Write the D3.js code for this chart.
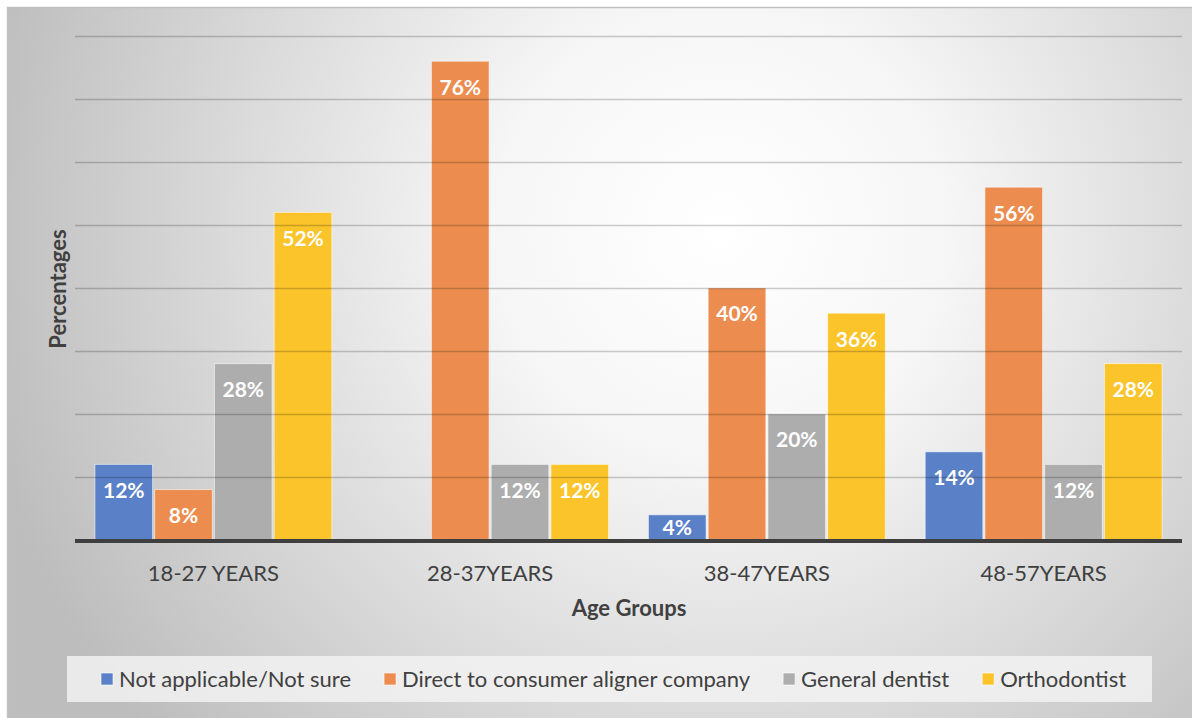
<!DOCTYPE html>
<html>
<head>
<meta charset="utf-8">
<script src="https://cdn.jsdelivr.net/npm/d3@7"></script>
<style>
  html, body { margin: 0; padding: 0; background: #ffffff; }
  svg { display: block; }
</style>
</head>
<body>
<svg id="chart" width="1192" height="718"></svg>
<script>
// Who respondents would prefer to obtain aligners from, by age group
const ageGroups = ["18-27 YEARS", "28-37YEARS", "38-47YEARS", "48-57YEARS"];
const seriesNames = ["Not applicable/Not sure", "Direct to consumer aligner company", "General dentist", "Orthodontist"];
const notSure      = [12, 0, 4, 14];
const directToCons = [8, 76, 40, 56];
const generalDent  = [28, 12, 20, 12];
const orthodontist = [52, 12, 36, 28];
const gridTicks = [0, 10, 20, 30, 40, 50, 60, 70, 80];
const seriesColors = ["#5a80c8", "#ec8c4e", "#adadad", "#fbc42a"];

const seriesValues = [notSure, directToCons, generalDent, orthodontist];

const W = 1192, H = 718;
const plot = { left: 75, right: 1182, top: 36, bottom: 540 };
const font = "Lato, 'Open Sans', sans-serif";
const textCol = "#404040";

const svg = d3.select("#chart");
const defs = svg.append("defs");

// soft radial background of the chart area
const bg = defs.append("radialGradient").attr("id", "bgGrad")
  .attr("gradientUnits", "userSpaceOnUse")
  .attr("cx", 720).attr("cy", 230).attr("r", 760);
bg.append("stop").attr("offset", "0").attr("stop-color", "#ffffff");
bg.append("stop").attr("offset", "0.3").attr("stop-color", "#f6f6f6");
bg.append("stop").attr("offset", "1").attr("stop-color", "#bdbdbd");

svg.append("rect").attr("x", 7.5).attr("y", 7.5).attr("width", W).attr("height", H)
  .attr("fill", "url(#bgGrad)").attr("stroke", "#c2c2c2").attr("stroke-width", 1.5);

// scales
const x0 = d3.scaleBand().domain(ageGroups).range([plot.left, plot.right])
  .paddingInner(0.144).paddingOuter(0.072);
const x1 = d3.scaleBand().domain(seriesNames).range([0, x0.bandwidth()])
  .paddingInner(0.035).paddingOuter(0);
const y = d3.scaleLinear().domain([0, 80]).range([plot.bottom, plot.top]);

// flatten into bar records
const bars = [];
ageGroups.forEach((g, gi) => {
  seriesNames.forEach((s, si) => {
    bars.push({ group: g, series: s, si, value: seriesValues[si][gi] });
  });
});

const barG = svg.append("g");
barG.selectAll("rect").data(bars.filter(d => d.value > 0)).join("rect")
  .attr("x", d => x0(d.group) + x1(d.series))
  .attr("y", d => y(d.value))
  .attr("width", x1.bandwidth())
  .attr("height", d => y(0) - y(d.value))
  .attr("fill", d => seriesColors[d.si])
  .attr("stroke", "#ffffff").attr("stroke-opacity", 0.55).attr("stroke-width", 1);

// horizontal gridlines (drawn semi-transparent across the bars)
const yAxisGrid = d3.axisLeft(y).tickValues(gridTicks.filter(t => t > 0))
  .tickSize(-(plot.right - plot.left)).tickFormat("");
const gridG = svg.append("g").attr("transform", `translate(${plot.left},0)`).call(yAxisGrid);
gridG.select(".domain").remove();
gridG.selectAll(".tick line").attr("stroke", "#000").attr("stroke-opacity", 0.2).attr("stroke-width", 1.3);

// value labels
barG.selectAll("text").data(bars.filter(d => d.value > 0)).join("text")
  .attr("x", d => x0(d.group) + x1(d.series) + x1.bandwidth() / 2)
  .attr("y", d => Math.min(y(d.value) + 26, y(0) - 12))
  .attr("dy", "0.35em")
  .attr("text-anchor", "middle")
  .attr("font-family", font).attr("font-weight", 700).attr("font-size", 21)
  .attr("fill", "#ffffff")
  .text(d => d.value + "%");

// x axis
const xAxis = d3.axisBottom(x0).tickSize(0).tickPadding(0);
const xG = svg.append("g").attr("transform", `translate(0,${plot.bottom})`).call(xAxis);
xG.select(".domain").remove();
xG.selectAll(".tick text")
  .attr("y", 33).attr("dy", "0.35em")
  .attr("font-family", font).attr("font-size", 22).attr("fill", textCol);
svg.append("line")
  .attr("x1", plot.left).attr("x2", plot.right)
  .attr("y1", plot.bottom + 1).attr("y2", plot.bottom + 1)
  .attr("stroke", "#3f3f3f").attr("stroke-width", 4);

// axis titles
svg.append("text").attr("x", 629).attr("y", 608).attr("dy", "0.35em")
  .attr("text-anchor", "middle")
  .attr("font-family", font).attr("font-weight", 700).attr("font-size", 22).attr("fill", textCol)
  .text("Age Groups");
svg.append("text")
  .attr("transform", "translate(58,289) rotate(-90)")
  .attr("dy", "0.35em").attr("text-anchor", "middle")
  .attr("font-family", font).attr("font-weight", 700).attr("font-size", 22).attr("fill", textCol)
  .text("Percentages");

// legend
const legendBox = { x: 67, y: 656, w: 1085, h: 46 };
svg.append("rect").attr("x", legendBox.x).attr("y", legendBox.y)
  .attr("width", legendBox.w).attr("height", legendBox.h)
  .attr("fill", "#f2f2f2").attr("fill-opacity", 0.85);
const legendG = svg.append("g");
let lx = 101;
const ly = legendBox.y + legendBox.h / 2;
seriesNames.forEach((s, i) => {
  legendG.append("rect").attr("x", lx).attr("y", ly - 6).attr("width", 12).attr("height", 12)
    .attr("fill", seriesColors[i]).attr("stroke", "#ffffff").attr("stroke-opacity", 0.6);
  const t = legendG.append("text").attr("x", lx + 18).attr("y", ly).attr("dy", "0.35em")
    .attr("font-family", font).attr("font-size", 22).attr("fill", textCol).text(s);
  lx += 18 + t.node().getComputedTextLength() + 33;
});
</script>
</body>
</html>
